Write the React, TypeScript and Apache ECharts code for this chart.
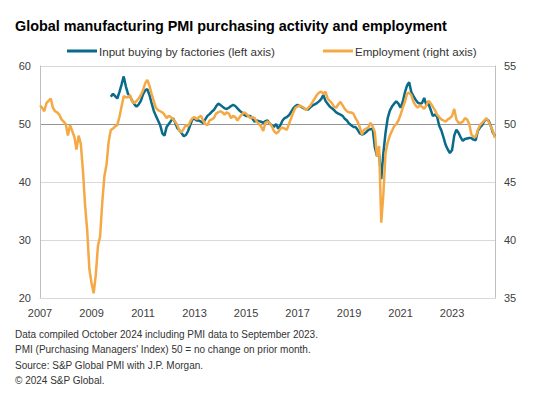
import React, { useEffect, useRef } from "react";
import * as echarts from "echarts";

// Monthly categories Jan 2007 .. Sep 2024
const startYear = 2007;
const monthCount = 213;
const months: string[] = [];
for (let i = 0; i < monthCount; i++) {
  const y = startYear + Math.floor(i / 12);
  const m = (i % 12) + 1;
  months.push(`${y}-${m < 10 ? "0" + m : m}`);
}

const yearTicks = ["2007", "2009", "2011", "2013", "2015", "2017", "2019", "2021", "2023"];

// Employment (right axis), Jan 2007 .. Sep 2024
const employment: number[] = [
  51.6, 51.4, 51.1, 51.8, 52.0, 52.2, 51.4, 51.1, 51.0, 50.8,
  50.4, 50.2, 50.0, 49.0, 49.9, 49.4, 48.9, 47.8, 49.0, 48.3,
  46.0, 43.0, 40.8, 37.5, 36.3, 35.4, 37.0, 39.5, 40.3, 43.2,
  45.5, 46.5, 48.5, 49.5, 49.6, 49.8, 49.9, 50.6, 51.5, 52.4,
  52.3, 52.3, 52.5, 51.9, 51.8, 52.0, 52.2, 52.5, 52.9, 53.5,
  53.8, 53.3, 52.6, 52.0, 51.4, 51.2, 51.1, 51.0, 50.8, 50.5,
  50.7, 50.6, 50.4, 50.2, 49.9, 49.4, 49.3, 49.6, 49.9, 49.8,
  50.2, 50.5, 50.6, 50.4, 50.6, 50.7, 50.3, 50.0, 49.9, 50.3,
  50.4, 50.5, 50.9, 51.0, 51.1, 51.0, 50.8, 51.0, 50.9, 50.5,
  50.7, 50.6, 50.3, 50.6, 50.8, 51.0, 50.9, 50.7, 50.5, 50.6,
  50.5, 50.2, 50.0, 49.8, 49.4, 50.1, 50.2, 50.1, 49.8, 49.4,
  49.2, 49.3, 49.6, 49.7, 49.6, 49.5, 50.0, 50.5, 51.0, 51.4,
  51.5, 51.6, 51.5, 51.4, 51.2, 51.4, 51.6, 51.9, 52.2, 52.5,
  52.7, 52.8, 52.6, 52.8, 52.2, 52.0, 51.8, 51.5, 51.4, 51.7,
  51.9, 51.6, 51.3, 51.1, 51.0, 51.0, 50.9, 50.5, 50.2, 49.7,
  49.1, 49.5, 49.6, 49.7, 50.1, 49.8, 49.3, 47.2, 48.1, 41.5,
  44.0, 47.5, 48.4, 49.0, 49.4, 49.8, 50.0, 50.3, 50.8, 51.4,
  51.9, 52.6, 52.7, 52.5, 51.9, 51.6, 51.4, 51.6, 51.5, 51.3,
  51.6, 52.0, 51.8, 51.5, 51.2, 50.8, 50.6, 50.4, 50.3, 50.2,
  50.4, 50.5, 50.7, 51.3, 50.4, 50.1, 50.1, 50.2, 50.5, 50.4,
  50.0, 49.1, 48.9, 48.9, 49.5, 49.9, 50.1, 50.3, 50.5, 50.2,
  49.8, 49.4, 48.8,
];

// Input buying (left axis), starts Oct 2009 (index 33)
const inputBuyingStart = 33;
const inputBuying: number[] = [
  54.7, 55.2, 54.8, 54.4, 55.5, 56.8, 58.2,
  56.5, 55.2, 54.7, 54.0, 53.4, 53.0, 53.4, 54.0, 55.1, 55.8,
  56.0, 55.0, 53.6, 52.3, 51.4, 50.6, 49.8, 48.4, 48.0, 49.5,
  50.0, 50.5, 51.0, 50.2, 49.3, 48.9, 48.4, 47.9, 48.1, 48.8,
  49.8, 50.8, 50.9, 50.6, 50.6, 50.4, 50.2, 50.8, 51.4, 51.7,
  52.1, 52.4, 53.0, 53.5, 53.3, 53.0, 52.7, 52.6, 52.8, 53.1,
  53.3, 53.1, 52.7, 52.3, 52.0, 51.6, 51.4, 51.4, 51.4, 50.9,
  50.4, 50.6, 50.5, 50.4, 50.2, 50.5, 50.6, 50.1, 49.8, 49.5,
  50.0, 49.2, 49.8, 50.6, 51.0, 51.2, 51.5, 52.1, 52.7, 53.1,
  53.3, 53.1, 52.9, 52.7, 52.5, 52.5, 52.9, 53.2, 53.4, 53.6,
  53.9, 54.3, 55.0, 54.0, 53.5, 53.0, 52.7, 52.4, 52.0, 51.8,
  51.6, 51.4, 50.9, 50.6, 50.1, 49.8, 49.5, 49.5, 49.0, 48.4,
  48.2, 48.3, 48.6, 49.0, 49.1, 49.2, 46.0, 44.5, 44.8, 40.5,
  45.0, 48.5, 51.0, 52.3, 53.0, 53.5, 53.9, 53.5, 52.8, 53.8,
  55.4, 56.6, 57.2, 55.5, 54.8, 54.2, 53.7, 53.5, 53.6, 54.5,
  53.3, 53.5, 52.5, 51.4, 51.6, 51.3, 49.7, 48.9, 47.7, 46.4,
  45.6, 45.0, 45.5, 48.0, 49.0, 48.5, 47.7, 47.1, 47.4, 47.5,
  47.6, 47.6, 47.3, 47.2, 48.8, 49.4, 49.8, 50.5, 50.8, 50.6,
  49.7, 48.5, 47.9,
];

const leftTicks = { min: 20, max: 60, interval: 10 };
const rightTicks = { min: 35, max: 55, interval: 5 };

const titleText = "Global manufacturing PMI purchasing activity and employment";
const seriesNames = ["Input buying by factories (left axis)", "Employment (right axis)"];
const footnotes = [
  "Data compiled October 2024 including PMI data to September 2023.",
  "PMI (Purchasing Managers' Index) 50 = no change on prior month.",
  "Source: S&P Global PMI with J.P. Morgan.",
  "\u00A9 2024 S&P Global.",
];

const FONT = '"Liberation Sans", Arial, sans-serif';
const BLUE = "#0a6a8a";
const ORANGE = "#f4a945";

export default function App() {
  const ref = useRef<HTMLDivElement>(null);
  useEffect(() => {
    if (!ref.current) return;
    const chart = echarts.init(ref.current, null, { renderer: "svg" });
    const blueData: (number | null)[] = months.map((_, i) =>
      i >= inputBuyingStart && i - inputBuyingStart < inputBuying.length
        ? inputBuying[i - inputBuyingStart]
        : null
    );
    chart.setOption({
      animation: false,
      backgroundColor: "#ffffff",
      textStyle: { fontFamily: FONT },
      title: {
        text: titleText,
        left: 15,
        top: 19,
        padding: 0,
        textStyle: { fontFamily: FONT, fontSize: 14.4, fontWeight: "bold", color: "#000000" },
      },
      legend: {
        left: 67,
        top: 45,
        padding: 0,
        icon: "rect",
        itemWidth: 30,
        itemHeight: 3,
        itemGap: 48,
        textStyle: { fontFamily: FONT, fontSize: 11.6, color: "#333333", padding: [0, 0, 0, -3] },
        data: seriesNames,
      },
      grid: { left: 40, right: 57, top: 66, bottom: 98, containLabel: false },
      xAxis: {
        type: "category",
        data: months,
        boundaryGap: false,
        axisTick: { show: false },
        axisLine: { show: true, lineStyle: { color: "#d9d9d9", width: 1 } },
        splitLine: { show: false },
        axisLabel: {
          interval: (_i: number, v: string) => v.endsWith("-01") && yearTicks.includes(v.slice(0, 4)),
          formatter: (v: string) => v.slice(0, 4),
          color: "#404040",
          fontSize: 11,
          fontFamily: FONT,
          margin: 9,
        },
      },
      yAxis: [
        {
          type: "value",
          position: "left",
          min: leftTicks.min,
          max: leftTicks.max,
          interval: leftTicks.interval,
          axisLine: { show: true, lineStyle: { color: "#bfbfbf", width: 1 } },
          axisTick: { show: false },
          splitLine: {
            show: true,
            lineStyle: {
              color: ["#d9d9d9", "#d9d9d9", "#d9d9d9", "#959595", "#d9d9d9"],
              width: 1.2,
            },
          },
          axisLabel: { color: "#404040", fontSize: 11, fontFamily: FONT, margin: 9 },
        },
        {
          type: "value",
          position: "right",
          min: rightTicks.min,
          max: rightTicks.max,
          interval: rightTicks.interval,
          axisLine: { show: true, lineStyle: { color: "#bfbfbf", width: 1 } },
          axisTick: { show: false },
          splitLine: { show: false },
          axisLabel: { color: "#404040", fontSize: 11, fontFamily: FONT, margin: 9 },
        },
      ],
      series: [
        {
          name: seriesNames[0],
          type: "line",
          yAxisIndex: 0,
          data: blueData,
          showSymbol: false,
          symbol: "none",
          connectNulls: false,
          lineStyle: { color: BLUE, width: 2.5 },
          itemStyle: { color: BLUE },
          z: 2,
        },
        {
          name: seriesNames[1],
          type: "line",
          yAxisIndex: 1,
          data: employment,
          showSymbol: false,
          symbol: "none",
          lineStyle: { color: ORANGE, width: 2.5 },
          itemStyle: { color: ORANGE },
          z: 3,
        },
      ],
      graphic: [
        {
          type: "text",
          left: 15,
          top: 327,
          style: {
            text: footnotes.join("\n"),
            font: `10px ${FONT}`,
            lineHeight: 15.3,
            fill: "#333333",
          },
        },
      ],
    });
    return () => chart.dispose();
  }, []);
  return (
    <div
      ref={ref}
      style={{ position: "fixed", left: 0, top: 0, width: 552, height: 396, background: "#fff" }}
    />
  );
}
